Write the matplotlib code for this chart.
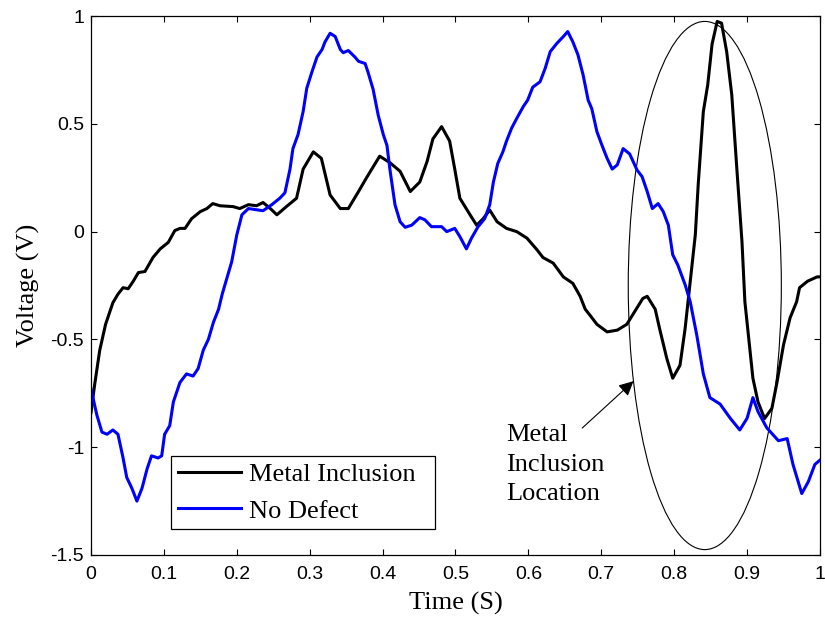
import matplotlib
matplotlib.use("Agg")
import matplotlib.pyplot as plt
from matplotlib.patches import Ellipse

# Metal inclusion trace (time in s, voltage in V)
metal_t = [0, 0.005, 0.012, 0.02, 0.03, 0.037, 0.044, 0.051, 0.058, 0.065, 0.074, 0.085,
           0.095, 0.106, 0.115, 0.122, 0.129, 0.138, 0.15, 0.159, 0.167, 0.177, 0.195,
           0.204, 0.216, 0.227, 0.236, 0.246, 0.255, 0.268, 0.282, 0.291, 0.305, 0.316,
           0.328, 0.342, 0.353, 0.367, 0.378, 0.396, 0.41, 0.424, 0.438, 0.451, 0.461,
           0.469, 0.481, 0.492, 0.499, 0.506, 0.52, 0.529, 0.538, 0.547, 0.557, 0.57,
           0.584, 0.598, 0.612, 0.62, 0.634, 0.648, 0.661, 0.671, 0.678, 0.685, 0.694,
           0.708, 0.722, 0.735, 0.746, 0.757, 0.763, 0.774, 0.78, 0.79, 0.798, 0.808,
           0.815, 0.819, 0.824, 0.829, 0.833, 0.84, 0.846, 0.852, 0.859, 0.865, 0.872,
           0.879, 0.886, 0.893, 0.897, 0.908, 0.915, 0.924, 0.934, 0.941, 0.95, 0.959,
           0.968, 0.972, 0.983, 0.996, 1.0]
metal_v = [-0.84, -0.71, -0.55, -0.43, -0.33, -0.29, -0.26, -0.265, -0.23, -0.19, -0.185, -0.12,
           -0.08, -0.05, 0.005, 0.015, 0.015, 0.06, 0.093, 0.107, 0.13, 0.12, 0.116,
           0.107, 0.125, 0.12, 0.135, 0.107, 0.078, 0.116, 0.155, 0.29, 0.37, 0.34,
           0.17, 0.107, 0.107, 0.186, 0.25, 0.35, 0.32, 0.28, 0.186, 0.23, 0.325,
           0.43, 0.487, 0.42, 0.29, 0.155, 0.078, 0.03, 0.06, 0.1, 0.046, 0.015,
           0.0, -0.03, -0.085, -0.12, -0.146, -0.21, -0.24, -0.3, -0.36, -0.39, -0.43,
           -0.465, -0.457, -0.43, -0.37, -0.31, -0.3, -0.36, -0.45, -0.59, -0.68, -0.62,
           -0.45, -0.325, -0.17, -0.015, 0.22, 0.557, 0.68, 0.87, 0.975, 0.967, 0.835,
           0.635, 0.29, -0.046, -0.325, -0.68, -0.79, -0.867, -0.82, -0.7, -0.525, -0.4,
           -0.325, -0.26, -0.23, -0.21, -0.21]

# No defect trace
clean_t = [0, 0.008, 0.015, 0.022, 0.03, 0.037, 0.044, 0.049, 0.056, 0.063, 0.07, 0.077,
           0.083, 0.092, 0.097, 0.101, 0.108, 0.113, 0.122, 0.131, 0.14, 0.147, 0.154,
           0.161, 0.168, 0.175, 0.18, 0.186, 0.193, 0.2, 0.207, 0.216, 0.236, 0.248,
           0.259, 0.266, 0.273, 0.277, 0.284, 0.291, 0.296, 0.303, 0.31, 0.317, 0.321,
           0.328, 0.335, 0.342, 0.346, 0.353, 0.362, 0.367, 0.376, 0.38, 0.387, 0.394,
           0.401, 0.406, 0.41, 0.417, 0.424, 0.431, 0.44, 0.451, 0.458, 0.467, 0.481,
           0.488, 0.499, 0.506, 0.515, 0.522, 0.531, 0.54, 0.547, 0.552, 0.558, 0.565,
           0.57, 0.577, 0.584, 0.593, 0.599, 0.606, 0.616, 0.623, 0.63, 0.639, 0.648,
           0.654, 0.661, 0.668, 0.675, 0.682, 0.687, 0.694, 0.701, 0.708, 0.715, 0.722,
           0.73, 0.739, 0.749, 0.756, 0.763, 0.77, 0.778, 0.785, 0.792, 0.798, 0.805,
           0.815, 0.822, 0.831, 0.84, 0.849, 0.863, 0.877, 0.89, 0.9, 0.908, 0.915,
           0.927, 0.943, 0.955, 0.963, 0.975, 0.984, 0.993, 1.0]
clean_v = [-0.73, -0.85, -0.93, -0.94, -0.92, -0.94, -1.05, -1.14, -1.19, -1.25, -1.19, -1.1,
           -1.04, -1.05, -1.04, -0.94, -0.9, -0.79, -0.7, -0.66, -0.67, -0.635, -0.55,
           -0.5, -0.42, -0.36, -0.29, -0.22, -0.14, -0.015, 0.078, 0.107, 0.097, 0.125,
           0.155, 0.18, 0.29, 0.385, 0.45, 0.557, 0.665, 0.74, 0.81, 0.845, 0.88,
           0.92, 0.905, 0.845, 0.83, 0.84, 0.81, 0.79, 0.78, 0.74, 0.66, 0.54,
           0.45, 0.4, 0.29, 0.125, 0.046, 0.02, 0.03, 0.065, 0.055, 0.023, 0.023,
           0.0, 0.015, -0.023, -0.08, -0.03, 0.023, 0.06, 0.125, 0.23, 0.316, 0.37,
           0.42, 0.48, 0.525, 0.58, 0.61, 0.67, 0.695, 0.757, 0.835, 0.873, 0.905,
           0.928, 0.88, 0.82, 0.728, 0.61, 0.57, 0.464, 0.4, 0.34, 0.29, 0.31,
           0.385, 0.36, 0.286, 0.255, 0.186, 0.107, 0.13, 0.093, 0.03, -0.107, -0.155,
           -0.246, -0.325, -0.48, -0.66, -0.77, -0.8, -0.866, -0.92, -0.866, -0.77, -0.835,
           -0.91, -0.97, -0.96, -1.08, -1.215, -1.16, -1.08, -1.06]

xticks = [0, 0.1, 0.2, 0.3, 0.4, 0.5, 0.6, 0.7, 0.8, 0.9, 1]
xtick_labels = ["0", "0.1", "0.2", "0.3", "0.4", "0.5", "0.6", "0.7", "0.8", "0.9", "1"]
yticks = [-1.5, -1, -0.5, 0, 0.5, 1]
ytick_labels = ["-1.5", "-1", "-0.5", "0", "0.5", "1"]

serif = "Liberation Serif"
sans = "Liberation Sans"

fig = plt.figure(figsize=(8.25, 6.17), dpi=100)
ax = fig.add_axes([0.1103, 0.1005, 0.8836, 0.8735])

ax.plot(metal_t, metal_v, color="black", lw=2.2, label="Metal Inclusion")
ax.plot(clean_t, clean_v, color="#0000ff", lw=2.2, label="No Defect")

# highlight the inclusion region
ell = Ellipse((0.842, -0.25), 0.21, 2.45, fill=False, edgecolor="black", lw=0.8)
ax.add_patch(ell)
ax.annotate("", xy=(0.747, -0.685), xytext=(0.671, -0.92),
            arrowprops=dict(arrowstyle="-|>", color="black", lw=0.8, mutation_scale=22))
ax.text(0.57, -0.893, "Metal\nInclusion\nLocation", fontfamily=serif, fontsize=19,
        va="top", ha="left", linespacing=1.45)

ax.set_xlim(0, 1)
ax.set_ylim(-1.5, 1)
ax.set_xticks(xticks)
ax.set_xticklabels(xtick_labels, fontfamily=sans, fontsize=14)
ax.set_yticks(yticks)
ax.set_yticklabels(ytick_labels, fontfamily=sans, fontsize=14)
ax.tick_params(direction="in", top=True, right=True, length=4, width=0.8)
ax.tick_params(axis="x", pad=8)
ax.tick_params(axis="y", pad=5)
for s in ax.spines.values():
    s.set_linewidth(0.9)

ax.set_xlabel("Time (S)", fontfamily=serif, fontsize=19)
ax.set_ylabel("Voltage (V)", fontfamily=serif, fontsize=19)
ax.xaxis.set_label_coords(0.5, -0.068)
ax.yaxis.set_label_coords(-0.07, 0.5)

leg = ax.legend(loc="lower left", bbox_to_anchor=(0.11, 0.048, 0.362, 0.142), mode="expand",
                prop={"family": serif, "size": 19}, fancybox=False, framealpha=1,
                edgecolor="black", handlelength=2.4, borderpad=0.25, labelspacing=0.5,
                handletextpad=0.3, borderaxespad=0)
leg.get_frame().set_linewidth(0.9)

fig.savefig("out.png", dpi=100)
